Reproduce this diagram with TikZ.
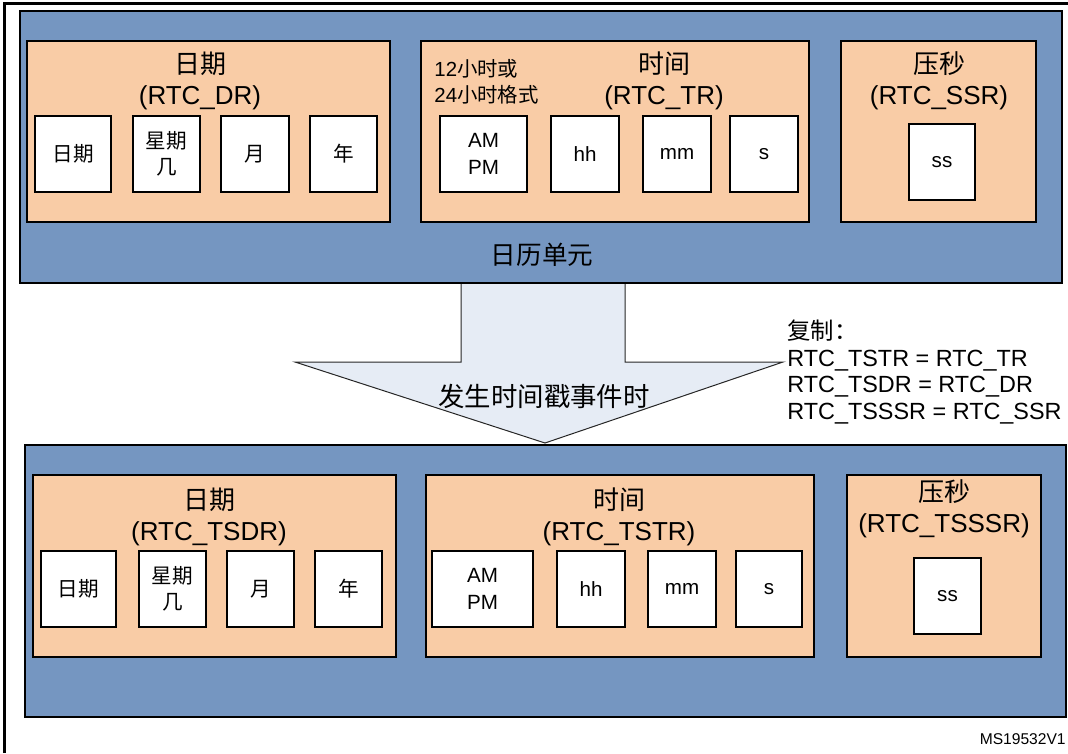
\documentclass[tikz,border=0pt]{standalone}
\usepackage{fontspec}
\setmainfont{Liberation Sans}
\newfontfamily\cjk{Noto Sans CJK SC}
\usetikzlibrary{fit}
\definecolor{calblue}{RGB}{117,150,193}
\definecolor{regorange}{RGB}{249,204,166}
\definecolor{arrowfill}{RGB}{230,236,245}

\begin{document}
\begin{tikzpicture}[x=0.5pt, y=-0.5pt,
    unit/.style={draw=black, line width=1pt, fill=calblue, inner sep=0pt},
    reg/.style={draw=black, line width=1pt, fill=regorange, inner sep=0pt},
    cell/.style={draw=black, line width=1pt, fill=white, inner sep=0pt, minimum height=38pt, align=center, font=\fontsize{10.3}{13.3}\selectfont},
    title/.style={align=center, inner sep=0pt, font=\fontsize{13}{15.5}\selectfont}]
              \useasboundingbox (0,0) rectangle (1068,753);
              % Frame
              \draw[line width=1.3pt] (4.3,753) |- (1068,3.3);
              % Copy arrow
              \draw[fill=arrowfill, draw=black!85, line width=0.5pt] (461,283)--(461,362)--(295,362)--(545,443)--(783,362)--(625,362)--(625,283);
              \node[inner sep=0pt, font=\fontsize{13.2}{15}\selectfont] (event) at (544,396) {\cjk 发生时间戳事件时};
              \node[anchor=west, align=left, inner sep=0pt, font=\fontsize{11.7}{13.3}\selectfont] (copy) at (787,372) {{\cjk 复制：}\\RTC\_TSTR = RTC\_TR\\RTC\_TSDR = RTC\_DR\\RTC\_TSSSR = RTC\_SSR};
              % Calendar unit
              \node[unit, fit={(20,11) (1062,283)}] (calTop) {};
              \node[reg, fit={(27,41) (390,222)}] (dateTop) {};
              \node[reg, fit={(421,41) (809,222)}] (timeTop) {};
              \node[reg, fit={(841,41) (1036,222)}] (ssTop) {};
              \node[title] (dateTopT) at (200,81) {{\cjk 日期}\\(RTC\_DR)};
              \node[title] (timeTopT) at (664,81) {{\cjk 时间}\\(RTC\_TR)};
              \node[title] (ssTopT) at (939,81) {{\cjk 压秒}\\(RTC\_SSR)};
              \node[anchor=west, align=left, inner sep=0pt, font=\fontsize{10.2}{13}\selectfont] (fmt) at (434,82) {12{\cjk 小时或}\\24{\cjk 小时格式}};
              \node[inner sep=0pt, font=\fontsize{12.8}{15}\selectfont] (calT) at (542,255) {\cjk 日历单元};
              \node[cell, minimum width=38pt] (dayTop) at (73,154) {\cjk 日期};
              \node[cell, minimum width=33.5pt] (wdayTop) at (166.5,154) {\cjk 星期\\\cjk 几};
              \node[cell, minimum width=34pt] (monTop) at (255,154) {\cjk 月};
              \node[cell, minimum width=33.5pt] (yearTop) at (343.5,154) {\cjk 年};
              \node[cell, minimum width=43.5pt] (ampmTop) at (483.5,154) {AM\\PM};
              \node[cell, minimum width=34pt] (hhTop) at (585,154) {hh};
              \node[cell, minimum width=34pt] (mmTop) at (677,154) {mm};
              \node[cell, minimum width=34pt] (sTop) at (764,154) {s};
              \node[cell, minimum width=33pt] (ssTopC) at (942,162) {ss};
              % Time stamp registers
              \node[unit, fit={(25,445) (1066,717)}] (calBot) {};
              \node[reg, fit={(33,475) (396,657)}] (dateBot) {};
              \node[reg, fit={(426,475) (814,657)}] (timeBot) {};
              \node[reg, fit={(847,475) (1041,657)}] (ssBot) {};
              \node[title] (dateBotT) at (209,517) {{\cjk 日期}\\(RTC\_TSDR)};
              \node[title] (timeBotT) at (619,517) {{\cjk 时间}\\(RTC\_TSTR)};
              \node[title] (ssBotT) at (944,509) {{\cjk 压秒}\\(RTC\_TSSSR)};
              \node[cell, minimum width=37.5pt] (dayBot) at (78.5,589) {\cjk 日期};
              \node[cell, minimum width=33.5pt] (wdayBot) at (172.5,589) {\cjk 星期\\\cjk 几};
              \node[cell, minimum width=33.5pt] (monBot) at (260.5,589) {\cjk 月};
              \node[cell, minimum width=33.5pt] (yearBot) at (348.5,589) {\cjk 年};
              \node[cell, minimum width=50.5pt] (ampmBot) at (482.5,589) {AM\\PM};
              \node[cell, minimum width=34pt] (hhBot) at (591,589) {hh};
              \node[cell, minimum width=34pt] (mmBot) at (682,589) {mm};
              \node[cell, minimum width=33pt] (sBot) at (769,589) {s};
              \node[cell, minimum width=33.5pt] (ssBotC) at (947.5,596) {ss};
              % Figure code
              \node[anchor=east, inner sep=0pt, font=\fontsize{7.8}{9}\selectfont] (code) at (1066,739) {MS19532V1};
      \end{tikzpicture}
\end{document}
